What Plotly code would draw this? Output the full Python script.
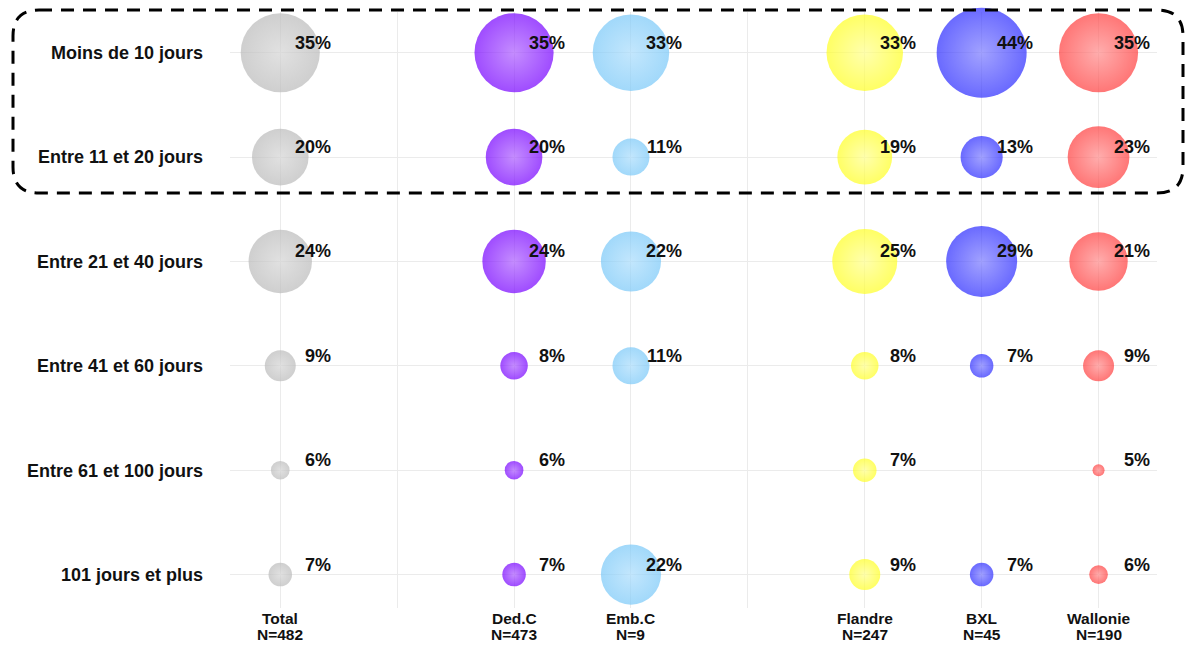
import math
import plotly.graph_objects as go

# ---------------- data ----------------
rows = ["Moins de 10 jours", "Entre 11 et 20 jours", "Entre 21 et 40 jours",
        "Entre 41 et 60 jours", "Entre 61 et 100 jours", "101 jours et plus"]
groups = ["Total", "Ded.C", "Emb.C", "Flandre", "BXL", "Wallonie"]
group_n = [482, 473, 9, 247, 45, 190]

total = [35, 20, 24, 9, 6, 7]
dedc = [35, 20, 24, 8, 6, 7]
embc = [33, 11, 22, 11, None, 22]
flandre = [33, 19, 25, 8, 7, 9]
bxl = [44, 13, 29, 7, None, 7]
wallonie = [35, 23, 21, 9, 5, 6]
series = [total, dedc, embc, flandre, bxl, wallonie]

# ---------------- styling ----------------
group_pos = [0, 2, 3, 5, 6, 7]          # gaps at 1 and 4 act as separators
edge_colors = ["#bababa", "#7600ff", "#79c8f8", "#ffff22", "#2a2aff", "#ff3c3c"]
center_colors = ["#d4d4d4", "#ac5cff", "#a9dcfc", "#ffff8a", "#7a7aff", "#ff8a8a"]
FONT = "Liberation Sans, Arial, sans-serif"
TXT = "#111111"

allv = [v for s in series for v in s if v is not None]
vmin, vmax = min(allv), max(allv)
dmin, dmax = 12, 90


def diam(v):
    t = (v - vmin) / (vmax - vmin)
    return math.sqrt(dmin ** 2 + t * (dmax ** 2 - dmin ** 2))


nrows = len(rows)
fig = go.Figure()
annotations = []
for gi, (g, s) in enumerate(zip(groups, series)):
    xs, ys, ds = [], [], []
    for ri, v in enumerate(s):
        if v is None:
            continue
        xs.append(group_pos[gi])
        ys.append(nrows - 1 - ri)
        ds.append(diam(v))
        annotations.append(dict(
            x=group_pos[gi], y=nrows - 1 - ri, text=f"{v}%", showarrow=False,
            xanchor="right", yanchor="middle", xshift=53, yshift=10,
            font=dict(family=FONT, size=18, color=TXT, weight="bold")))
    fig.add_trace(go.Scatter(
        x=xs, y=ys, mode="markers", name=g, hoverinfo="skip",
        marker=dict(size=ds, color=edge_colors[gi],
                    gradient=dict(type="radial", color=center_colors[gi]),
                    line=dict(width=0)),
        cliponaxis=False))

# x category labels (two tight lines) as annotations under the axis
for gi, g in enumerate(groups):
    for txt, shift in ((g, -10), (f"N={group_n[gi]}", -26)):
        annotations.append(dict(
            x=group_pos[gi], y=0, xref="x", yref="paper", text=txt,
            showarrow=False, xanchor="center", yanchor="middle", yshift=shift,
            font=dict(family=FONT, size=15.5, color=TXT, weight="bold")))

# ---------------- layout ----------------
L, R, T, B = 230, 1157, 12, 608
W, H = 1192, 646


def px2x(px):
    return (px - L) / (R - L)


def py2y(py):
    return (B - py) / (B - T)


# rounded dashed box around the first two rows
bx0, bx1, by0, by1, r = 13, 1183, 10, 193, 26
path = (
    f"M {px2x(bx0 + r)},{py2y(by0)} L {px2x(bx1 - r)},{py2y(by0)} "
    f"Q {px2x(bx1)},{py2y(by0)} {px2x(bx1)},{py2y(by0 + r)} "
    f"L {px2x(bx1)},{py2y(by1 - r)} "
    f"Q {px2x(bx1)},{py2y(by1)} {px2x(bx1 - r)},{py2y(by1)} "
    f"L {px2x(bx0 + r)},{py2y(by1)} "
    f"Q {px2x(bx0)},{py2y(by1)} {px2x(bx0)},{py2y(by1 - r)} "
    f"L {px2x(bx0)},{py2y(by0 + r)} "
    f"Q {px2x(bx0)},{py2y(by0)} {px2x(bx0 + r)},{py2y(by0)} Z"
)

fig.update_layout(
    width=W, height=H,
    margin=dict(l=L, r=W - R, t=T, b=H - B, pad=0),
    paper_bgcolor="white", plot_bgcolor="white",
    showlegend=False,
    font=dict(family=FONT, color=TXT),
    annotations=annotations,
    shapes=[dict(type="path", path=path, xref="paper", yref="paper",
                 line=dict(color="black", width=3, dash="13px,9px"),
                 fillcolor="rgba(0,0,0,0)", layer="above")],
    xaxis=dict(range=[-0.43, 7.5], tickvals=list(range(0, 8)),
               showticklabels=False,
               showgrid=True, gridcolor="#ebebeb", gridwidth=1, zeroline=False,
               showline=False, ticks="", automargin=False, fixedrange=True),
    yaxis=dict(range=[-0.32, 5.39], tickvals=list(range(nrows - 1, -1, -1)),
               ticktext=rows, showgrid=True, gridcolor="#ebebeb", gridwidth=1,
               zeroline=False, showline=False, ticks="", ticklabelstandoff=26,
               automargin=False,
               tickfont=dict(family=FONT, size=18, color=TXT, weight="bold"),
               fixedrange=True),
)

fig.write_html("out.html")
